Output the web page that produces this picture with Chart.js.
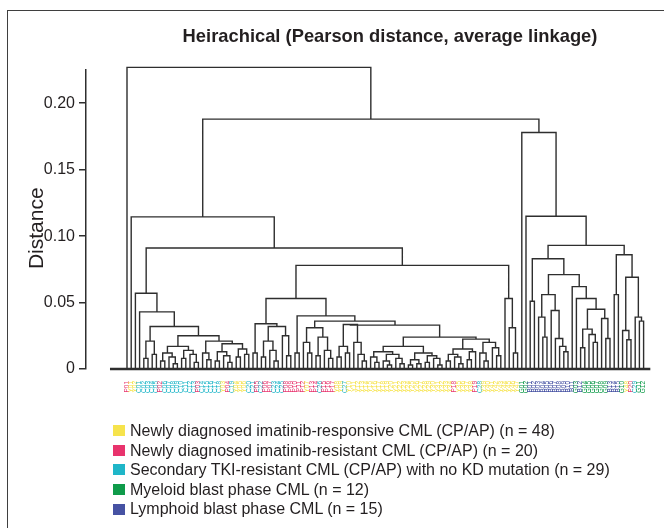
<!DOCTYPE html>
<html><head><meta charset="utf-8">
<script src="https://cdn.jsdelivr.net/npm/chart.js@4.4.0/dist/chart.umd.min.js"></script>
<style>
html,body{margin:0;padding:0;background:#fff;}
#wrap{position:relative;width:664px;height:528px;overflow:hidden;font-family:"Liberation Sans",Arial,sans-serif;color:#231f20;}
#frame{position:absolute;left:7px;top:10px;width:720px;height:600px;border:1.5px solid #3f3f3f;box-sizing:border-box;}
#c{position:absolute;left:0;top:0;}
#title{position:absolute;left:0;width:780px;top:26px;text-align:center;font-weight:bold;font-size:19px;line-height:20px;transform:scaleX(0.965);transform-origin:390px 50%;white-space:nowrap;}
#legend{position:absolute;left:113px;top:421px;}
.row{height:19.6px;line-height:19.6px;font-size:16px;white-space:nowrap;display:flex;align-items:center;}
.sw{width:12px;height:11px;margin-right:5px;flex:none;}
</style></head>
<body><div id="wrap"><div id="frame"></div><canvas id="c" width="664" height="528"></canvas>
<div id="title">Heirachical (Pearson distance, average linkage)</div>
<div id="legend"></div></div>
<script>
// ---- data ----
const yTickValues = [0, 0.05, 0.10, 0.15, 0.20];
const yTickLabels = ['0', '0.05', '0.10', '0.15', '0.20'];
const groupNames = [
  'Newly diagnosed imatinib-responsive CML (CP/AP)',
  'Newly diagnosed imatinib-resistant CML (CP/AP)',
  'Secondary TKI-resistant CML (CP/AP) with no KD mutation',
  'Myeloid blast phase CML',
  'Lymphoid blast phase CML'];
const groupCounts = [48, 20, 29, 12, 15];
const groupCodes = ['Y', 'P', 'C', 'G', 'B'];
const groupColors = ['#f6e34c', '#e8336d', '#1fb6c8', '#0f9b4a', '#4652a3'];
// leaf order of the dendrogram, one code per sample
const leafGroups = ('PYYCCCCCPCCCCCCCCPCCCCCYPCYYYCCPCPPCCCPPPPPYPPCPPPYYC' +
  'YYYYYYYYYYYYYYYYYYYYYYYYY' + 'PYYYYPC' + 'YYYYYYYYY' +
  'GGBBBBBBBBBBBGBGGGGGGBBBGYPCGG').split('');

// merge trees: [height, left, right], 0 = leaf
const clusterB = [0.057, 0, [0.043, 0, [0.032,
  [0.021, [0.008, 0, 0], [0.011, 0, 0]],
  [0.025,
    [0.017, [0.012, [0.006, 0, 0], [0.009, 0, [0.004, 0, 0]]], [0.014, [0.008, 0, 0], [0.011, 0, [0.005, 0, 0]]]],
    [0.021, [0.012, 0, [0.007, 0, 0]], [0.019, [0.013, [0.006, 0, 0], [0.010, 0, [0.005, 0, 0]]], [0.015, [0.009, 0, 0], [0.011, 0, 0]]]]]]]];
const clusterD1 = [0.034, [0.012, 0, 0], [0.032, [0.021, [0.009, 0, 0], [0.014, 0, [0.006, 0, 0]]], [0.025, 0, [0.010, 0, 0]]]];
const clusterD3 = [0.031, [0.020, 0, [0.012, 0, 0]], [0.024, [0.010, 0, 0], [0.014, 0, [0.008, 0, 0]]]];
const clusterD5 = [0.0335, [0.017, [0.009, 0, 0], [0.012, 0, 0]], [0.020, 0, [0.011, 0, [0.006, 0, 0]]]];
const clusterD7 = [0.017, [0.013, [0.009, 0, [0.005, 0, 0]], [0.011, [0.006, 0, [0.003, 0, 0]], [0.008, 0, [0.004, 0, 0]]]],
  [0.012, [0.007, [0.003, 0, 0], [0.004, 0, 0]], [0.010, [0.005, 0, 0], [0.008, 0, [0.003, 0, 0]]]]];
const clusterD8 = [0.0225, [0.015, [0.011, [0.006, 0, 0], [0.009, 0, [0.004, 0, 0]]], [0.013, [0.007, 0, 0], 0]],
  [0.020, [0.012, 0, [0.006, 0, 0]], [0.016, 0, [0.010, 0, 0]]]];
const clusterE = [0.053, 0, [0.031, 0, [0.012, 0, 0]]];
const clusterC = [0.078, [0.053, clusterD1, [0.040, [0.012, 0, 0],
  [0.036, clusterD3, [0.033, clusterD5, [0.024, clusterD7, clusterD8]]]]], clusterE];
const clusterR056 = [0.056, [0.039, 0, [0.024, 0, 0]], [0.044, 0, [0.023, 0, [0.017, 0, [0.013, 0, 0]]]]];
const clusterR062 = [0.062, 0, [0.053, 0, [0.045, [0.030, [0.016, 0, 0], [0.026, 0, [0.020, 0, 0]]], [0.038, 0, [0.023, 0, 0]]]]];
const clusterR086 = [0.086, [0.056, 0, 0], [0.069, [0.029, 0, [0.022, 0, 0]], [0.039, 0, [0.036, 0, 0]]]];
const clusterRight = [0.178, 0, [0.115, 0, [0.093, [0.083, [0.051, 0, 0], [0.071, clusterR056, clusterR062]], clusterR086]]];
const dendrogram = [0.227, 0, [0.188, [0.1145, 0, [0.091, clusterB, clusterC]], clusterRight]];

// ---- build line segments from the tree ----
const segs = [];
let leafCounter = 0;
function place(node) {
  if (node === 0) { return { x: leafCounter++, h: 0 }; }
  const L = place(node[1]), R = place(node[2]);
  const h = node[0];
  segs.push({ x: L.x, y: L.h }, { x: L.x, y: h }, { x: R.x, y: h }, { x: R.x, y: R.h }, { x: R.x, y: null });
  return { x: (L.x + R.x) / 2, h };
}
place(dendrogram);
const leafIdx = leafGroups.map((g, i) => i);
const groupRunning = {};
const leafLabels = leafGroups.map(g => { groupRunning[g] = (groupRunning[g] || 0) + 1; return g + String(groupRunning[g]).padStart(2, '0'); });

// ---- legend ----
const lg = document.getElementById('legend');
groupNames.forEach((n, i) => {
  const r = document.createElement('div'); r.className = 'row';
  const s = document.createElement('span'); s.className = 'sw'; s.style.background = groupColors[i];
  const t = document.createElement('span'); t.textContent = n + ' (n = ' + groupCounts[i] + ')';
  r.appendChild(s); r.appendChild(t); lg.appendChild(r);
});

new Chart(document.getElementById('c'), {
  type: 'line',
  data: {
    datasets: [
      { data: segs, borderColor: '#2e2e2e', borderWidth: 1.4, pointRadius: 0, spanGaps: false, tension: 0, fill: false, clip: false },
      { data: [{ x: -4.05, y: 0 }, { x: 124.6, y: 0 }], borderColor: '#2e2e2e', borderWidth: 2.4, pointRadius: 0, fill: false, clip: false }
    ]
  },
  options: {
    responsive: false, animation: false, devicePixelRatio: 1,
    layout: { padding: { top: 70, right: 12, left: 0, bottom: 0 } },
    plugins: { legend: { display: false }, tooltip: { enabled: false }, title: { display: false } },
    scales: {
      x: {
        type: 'linear', min: -9.762, max: 125,
        afterBuildTicks: s => { s.ticks = leafIdx.map(v => ({ value: v })); },
        afterFit: s => { s.height = 159; },
        grid: { display: false, drawTicks: false }, border: { display: false },
        ticks: {
          autoSkip: false, maxRotation: 90, minRotation: 90, padding: 12,
          font: { size: 6.5, family: 'Liberation Sans' },
          color: c => groupColors[groupCodes.indexOf(leafGroups[c.index])],
          callback: (v, i) => leafLabels[i]
        }
      },
      y: {
        min: 0, max: 0.225,
        afterBuildTicks: s => { s.ticks = yTickValues.map(v => ({ value: v })); },
        afterFit: s => { s.width = 86; },
        border: { display: true, color: '#2e2e2e', width: 1.5 },
        grid: { drawOnChartArea: false, drawTicks: true, tickLength: 7, color: '#2e2e2e', lineWidth: 1.5 },
        ticks: { padding: 4, font: { size: 16, family: 'Liberation Sans' }, color: '#231f20',
          callback: v => yTickLabels[yTickValues.indexOf(v)] },
        title: { display: true, text: 'Distance   ', font: { size: 21, family: 'Liberation Sans' }, color: '#231f20', padding: { top: 25, bottom: 0 } }
      }
    }
  }
});
</script></body></html>
